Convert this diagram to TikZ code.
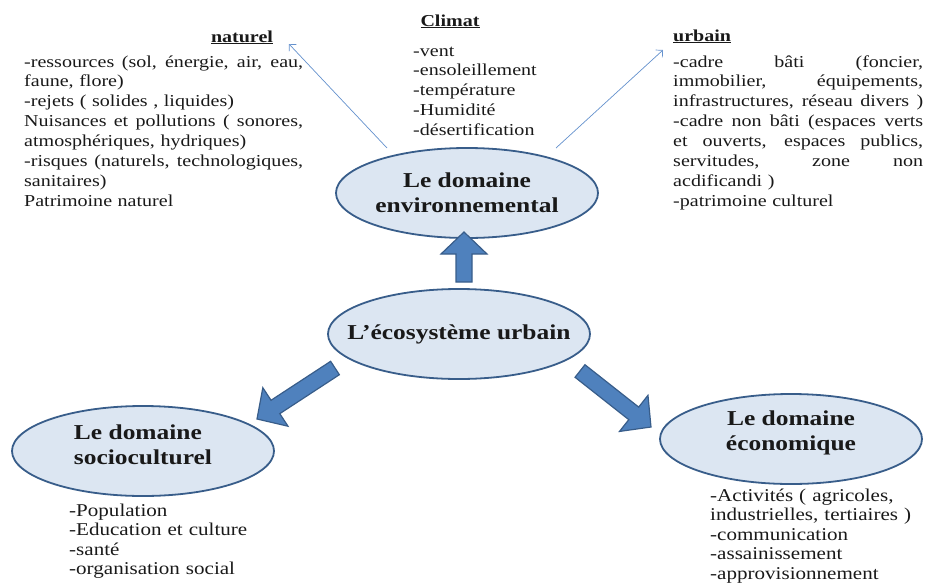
\documentclass[tikz,border=0pt]{standalone}
\usepackage{fontspec}
\setmainfont{Liberation Serif}[FakeStretch=1.2]
\newfontfamily\grande{Liberation Serif}[FakeStretch=1.17]
\usetikzlibrary{arrows.meta, calc, shapes.geometric}
\definecolor{ellfond}{RGB}{220,230,242}
\definecolor{elltrait}{RGB}{56,93,138}
\definecolor{flechefond}{RGB}{79,129,189}
\definecolor{flechefine}{RGB}{100,145,205}
\definecolor{texte}{RGB}{25,25,25}

% justified line of a list
\newcommand\ligne[2][250pt]{\makebox[#1][s]{%
  \spaceskip=\fontdimen2\font plus 1fil\relax #2}}
% block arrow from #1 to the tip #2
\newcommand\blocfleche[2]{%
  \draw[bloc] ($(#1)!8pt!90:(#2)$) -- ($(#2)!22pt!(#1)!8pt!-90:(#1)$)
    -- ($(#2)!22pt!(#1)!23pt!-90:(#1)$) -- (#2)
    -- ($(#2)!22pt!(#1)!23pt!90:(#1)$) -- ($(#2)!22pt!(#1)!8pt!90:(#1)$)
    -- ($(#1)!8pt!-90:(#2)$) -- cycle;}

\begin{document}
\begin{tikzpicture}[x=1pt,y=-1pt,
          domaine/.style={ellipse,draw=elltrait,fill=ellfond,line width=1.8pt,
                          minimum width=262pt,minimum height=90pt,inner sep=0pt},
          etiq/.style={align=center,inner sep=0pt,text=texte,
                       font=\bfseries\fontsize{21.2}{25}\selectfont},
          liste/.style={anchor=base west,inner sep=0pt,align=left,text=texte,
                        font=\fontsize{16.7}{19.9}\selectfont},
          basliste/.style={liste,font=\grande\fontsize{18}{19.6}\selectfont},
          titre/.style={anchor=base,inner sep=0pt,text=texte,
                        font=\bfseries\fontsize{16.7}{19.9}\selectfont},
          fine/.style={draw=flechefine,line width=0.7pt,
                       -{Straight Barb[length=5pt,width=10pt]}},
          bloc/.style={fill=flechefond,draw=elltrait,line width=1.2pt}]
        \useasboundingbox (0,0) rectangle (927,587);

        % thin arrows
        \coordinate (n0) at (387,148);
        \coordinate (n1) at (289,44);
        \coordinate (u0) at (556,148);
        \coordinate (u1) at (663,50);
        \draw[fine] (n0) -- (n1);
        \draw[fine] (u0) -- (u1);

        % domains
        \node[domaine,label={[etiq]center:Le domaine\\environnemental}]
          (env) at (467,193) {};
        \node[domaine,label={[etiq]center:L’écosystème urbain}]
          (eco) at (459,334) {};
        \node[domaine,label={[etiq,align=left,yshift=6pt]center:Le domaine\\socioculturel}]
          (socio) at (143,451) {};
        \node[domaine,label={[etiq,yshift=6pt]center:Le domaine\\économique}]
          (econ) at (791,439) {};

        % block arrows
        \coordinate (h0) at (464,282);
        \coordinate (h1) at (464,232);
        \coordinate (g0) at (335,368);
        \coordinate (g1) at (257,419);
        \coordinate (d0) at (580,371);
        \coordinate (d1) at (651,427);
        \blocfleche{h0}{h1}
        \blocfleche{g0}{g1}
        \blocfleche{d0}{d1}

        % texts
        \node[titre] (natT) at (242,42) {\underline{naturel}};
        \node[liste,text width=279pt] (natL) at (24,67)
          {\ligne[279pt]{-ressources (sol, énergie, air, eau,}\\
           faune, flore)\\
           -rejets ( solides , liquides)\\
           \ligne[279pt]{Nuisances et pollutions ( sonores,}\\
           atmosphériques, hydriques)\\
           \ligne[279pt]{-risques (naturels, technologiques,}\\
           sanitaires)\\
           Patrimoine naturel};
        \node[titre] (cliT) at (450,26) {\underline{Climat}};
        \node[liste,text width=140pt] (cliL) at (413,56)
          {-vent\\-ensoleillement\\-température\\-Humidité\\-désertification};
        \node[titre,anchor=base west] (urbT) at (673,41) {\underline{urbain}};
        \node[liste,text width=250pt] (urbL) at (673,67)
          {\ligne{-cadre bâti (foncier,}\\
           \ligne{immobilier, équipements,}\\
           \ligne{infrastructures, réseau divers )}\\
           \ligne{-cadre non bâti (espaces verts}\\
           \ligne{et ouverts, espaces publics,}\\
           \ligne{servitudes, zone non}\\
           acdificandi )\\
           -patrimoine culturel};
        \node[basliste,text width=220pt] (socL) at (69,516)
          {-Population\\-Education et culture\\-santé\\-organisation social};
        \node[basliste,text width=215pt] (ecoL) at (710,501)
          {-Activités ( agricoles,\\industrielles, tertiaires )\\-communication\\
           -assainissement\\-approvisionnement};
      \end{tikzpicture}
\end{document}
